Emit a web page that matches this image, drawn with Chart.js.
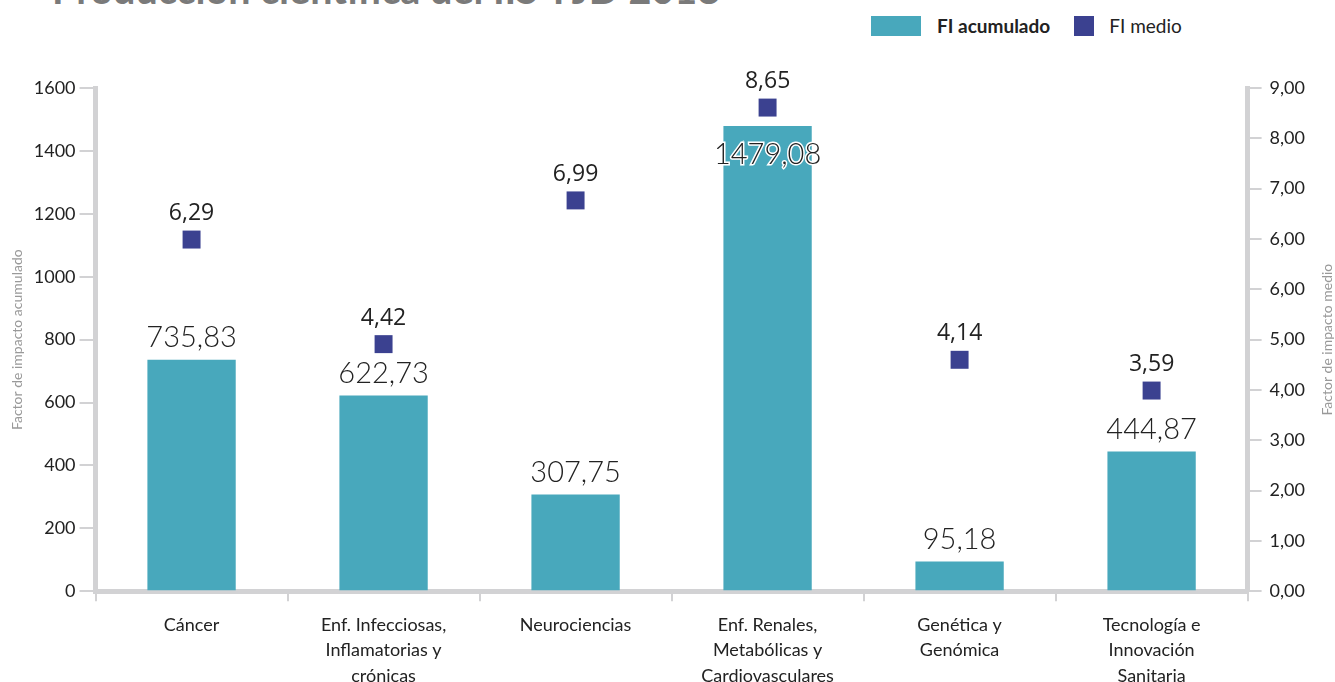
<!DOCTYPE html>
<html lang="es">

<head>
  <meta charset="UTF-8" />
  <title>Producción científica</title>
  <script src="https://cdn.jsdelivr.net/npm/chart.js"></script>
  <style>
    body {
      margin: 0;
      background: #fff;
      overflow: hidden;
      font-family: Lato, 'Open Sans', sans-serif;
    }

    #titulo {
      position: absolute;
      left: 52px;
      top: -31px;
      margin: 0;
      font-size: 39.5px;
      line-height: 40px;
      font-weight: bold;
      color: #7a7a7a;
      white-space: nowrap;
    }

    #leyenda {
      position: absolute;
      left: 871px;
      top: 14px;
      display: flex;
      align-items: center;
      font-size: 19px;
      color: #222;
    }

    .caja-barra {
      width: 50px;
      height: 20px;
      background: #48a8bc;
      margin-right: 16px;
    }

    .caja-punto {
      width: 20px;
      height: 20px;
      background: #3b4190;
      margin-left: 24px;
      margin-right: 15px;
    }

    #leyenda span {
      font-weight: normal;
    }

    .grafico-container {
      position: absolute;
      left: 0;
      top: 0;
      width: 1335px;
      height: 700px;
    }
  </style>
</head>

<body>
  <h1 id="titulo">Producción científica del IIS-FJD 2018</h1>

  <div id="leyenda">
    <div class="caja-barra"></div><b>FI acumulado</b>
    <div class="caja-punto"></div><span>FI medio</span>
  </div>

  <div class="grafico-container">
    <canvas id="grafico"></canvas>
  </div>

  <script>
    // areas de investigación
    const categorias = [
      ['Cáncer'],
      ['Enf. Infecciosas,', 'Inflamatorias y', 'crónicas'],
      ['Neurociencias'],
      ['Enf. Renales,', 'Metabólicas y', 'Cardiovasculares'],
      ['Genética y', 'Genómica'],
      ['Tecnología e', 'Innovación', 'Sanitaria']
    ];
    const fiAcumulado = [735.83, 622.73, 307.75, 1479.08, 95.18, 444.87];
    const fiMedio = [6.29, 4.42, 6.99, 8.65, 4.14, 3.59];

    // etiquetas del eje derecho tal como salen en el original
    const etiquetasDerecha = ['0,00', '1,00', '2,00', '3,00', '4,00', '5,00', '6,00', '6,00', '7,00', '8,00', '9,00'];

    const gris = '#d2d2d4';
    const fuente = "Lato, 'Open Sans', sans-serif";

    function formato(v) {
      return v.toFixed(2).replace('.', ',');
    }

    const etiquetasPlugin = {
      id: 'etiquetas',
      afterDatasetsDraw(chart) {
        const ctx = chart.ctx;
        const area = chart.chartArea;
        ctx.save();
        ctx.textAlign = 'center';
        ctx.textBaseline = 'middle';

        // valores de las barras
        ctx.font = '300 29px ' + fuente;
        chart.getDatasetMeta(0).data.forEach((bar, i) => {
          const txt = formato(fiAcumulado[i]);
          if (bar.y - area.top < 60) {
            // no cabe encima: se escribe dentro con halo blanco
            ctx.lineWidth = 3;
            ctx.strokeStyle = '#fff';
            ctx.strokeText(txt, bar.x, bar.y + 29);
            ctx.fillStyle = '#222';
            ctx.fillText(txt, bar.x, bar.y + 29);
          } else {
            ctx.fillStyle = '#222';
            ctx.fillText(txt, bar.x, bar.y - 22);
          }
        });

        // valores de los puntos
        ctx.font = "23px 'Open Sans', sans-serif";
        ctx.fillStyle = '#222';
        chart.getDatasetMeta(1).data.forEach((p, i) => {
          ctx.fillText(formato(fiMedio[i]), p.x, p.y - 26);
        });

        // titulo del eje derecho (de abajo a arriba)
        const y1 = chart.scales.y1;
        ctx.translate(chart.width - 8, (y1.top + y1.bottom) / 2);
        ctx.rotate(-Math.PI / 2);
        ctx.font = '14px ' + fuente;
        ctx.fillStyle = '#999';
        ctx.fillText('Factor de impacto medio', 0, 0);
        ctx.restore();
      }
    };

    const config = {
      data: {
        labels: categorias,
        datasets: [
          {
            type: 'bar',
            label: 'FI acumulado',
            data: fiAcumulado,
            backgroundColor: '#48a8bc',
            yAxisID: 'y',
            categoryPercentage: 1,
            barPercentage: 0.46,
            order: 1
          },
          {
            type: 'line',
            label: 'FI medio',
            data: fiMedio,
            yAxisID: 'y1',
            showLine: false,
            pointStyle: 'rect',
            pointRadius: 12.7,
            pointHoverRadius: 12.7,
            pointBorderWidth: 0,
            backgroundColor: '#3b4190',
            borderColor: '#3b4190',
            clip: false,
            order: 0
          }
        ]
      },
      options: {
        responsive: true,
        maintainAspectRatio: false,
        animation: false,
        layout: {
          padding: { top: 88, right: 22, left: 5, bottom: 0 }
        },
        plugins: {
          legend: { display: false },
          tooltip: { enabled: false }
        },
        scales: {
          x: {
            grid: {
              offset: true,
              drawOnChartArea: false,
              tickLength: 10,
              lineWidth: 2,
              color: gris
            },
            border: { width: 5, color: gris },
            ticks: {
              color: '#222',
              font: { family: fuente, size: 18, lineHeight: 1.42 },
              padding: 11,
              maxRotation: 0
            }
          },
          y: {
            position: 'left',
            min: 0,
            max: 1600,
            grid: {
              drawOnChartArea: false,
              tickLength: 16,
              lineWidth: 2,
              color: gris
            },
            border: { width: 5, color: gris },
            ticks: {
              stepSize: 200,
              color: '#222',
              font: { family: fuente, size: 18 },
              padding: 4,
              callback: v => String(v)
            },
            title: {
              display: true,
              text: 'Factor de impacto acumulado',
              color: '#999',
              font: { family: fuente, size: 14 }
            }
          },
          y1: {
            position: 'right',
            min: 0,
            max: 9,
            afterBuildTicks(scale) {
              scale.ticks = etiquetasDerecha.map((t, i) => ({ value: i * 0.9 }));
            },
            grid: {
              drawOnChartArea: false,
              tickLength: 14,
              lineWidth: 2,
              color: gris
            },
            border: { width: 5, color: gris },
            ticks: {
              color: '#222',
              font: { family: fuente, size: 18 },
              padding: 8,
              callback: (v, i) => etiquetasDerecha[i]
            }
          }
        }
      },
      plugins: [etiquetasPlugin]
    };

    const ctx = document.getElementById('grafico').getContext('2d');
    const grafico = new Chart(ctx, config);
  </script>
</body>

</html>
